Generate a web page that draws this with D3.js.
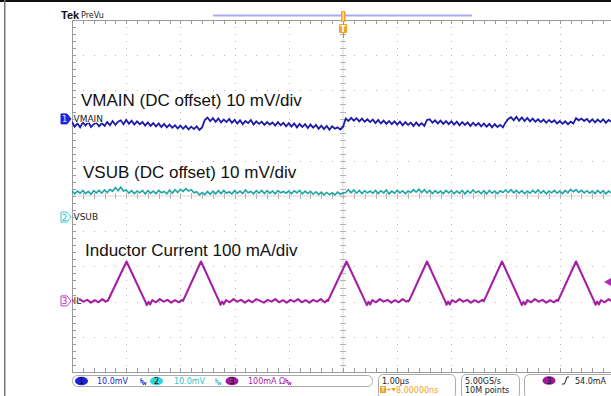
<!DOCTYPE html>
<html><head><meta charset="utf-8">
<script src="https://cdn.jsdelivr.net/npm/d3@7"></script>
<style>
html,body{margin:0;padding:0;background:#fff;}
svg{display:block;}
text{font-family:"DejaVu Sans",sans-serif;}
</style></head>
<body>
<svg id="c" width="611" height="396"></svg>
<script>
// ---------------- DATA ----------------
const timeStartUs = -5.0, timeStepUs = 0.05;           // sample grid of VMAIN / VSUB
// VMAIN (mV, relative to its marker), 10 mV/div
const vmainMv = [
-0.9,-2.2,-1.3,-2.4,-1.0,-1.9,-0.8,-2.3,-1.5,-1.1,
-2.1,-1.2,-2.0,-0.9,-1.8,-0.6,-1.7,-0.8,-0.4,-1.5,
-0.3,-1.4,-0.5,-1.6,-0.7,-1.5,-0.9,-1.9,-1.0,-2.0,
-1.2,-2.1,-1.3,-2.3,-1.4,-2.4,-1.6,-2.5,-1.8,-2.7,
-1.9,-2.8,-2.0,-3.0,-2.2,-2.9,-2.1,-3.1,-2.4,-0.3,
 0.4,-0.6, 0.2,-0.8, 0.1,-1.0,-0.2,-0.9, 0.0,-1.1,
-0.3,-1.3,-0.4,-1.5,-0.6,-1.2,-0.3,-1.6,-0.7,-1.4,
-0.8,-1.7,-0.9,-1.6,-1.0,-1.9,-0.9,-1.8,-1.1,-2.1,
-1.2,-2.2,-1.3,-2.4,-1.4,-2.3,-1.5,-2.6,-1.6,-2.5,
-1.7,-2.8,-1.9,-2.9,-2.0,-3.1,-2.1,-2.8,-2.4,-3.0,
-2.3, 0.1,-0.6, 0.3,-0.5, 0.2,-0.7, 0.1,-0.8,-0.1,
-0.9,-0.2,-1.2,-0.3,-1.3,-0.5,-1.4,-0.6,-1.5,-0.7,
-1.6,-0.8,-1.8,-0.9,-1.7,-1.1,-2.0,-1.0,-1.9,-1.2,
-2.0,-0.3,-0.1,-1.1,-0.4,-1.3,-0.5,-1.4,-0.6,-1.5,
-0.7,-1.6,-0.8,-1.8,-0.9,-1.7,-1.0,-2.0,-1.1,-1.9,
-1.2,-2.1,-1.3,-2.2,-1.4,-2.4,-1.5,-2.3,-1.7,-2.4,
-1.0, 0.0, 0.5,-0.4, 0.6,-0.5, 0.4,-0.6, 0.3,-0.7,
 0.1,-0.8,-0.1,-0.9,-0.2,-1.1,-0.3,-1.0,-0.4,-1.3,
-0.6,-1.4,-0.7,-1.5,-0.8,-1.3, 0.2,-0.4, 0.1,-0.6,
 0.0,-0.9,-0.1,-1.0,-0.2,-0.9,-0.1,-1.1,-0.3,-0.8];
// VSUB (mV, relative to its marker), 10 mV/div
const vsubMv = [
7.5,6.6,7.4,6.8,7.6,6.7,7.3,6.5,7.5,6.9,
7.6,6.8,7.7,7.0,7.9,7.3,8.4,7.5,8.5,7.4,
7.7,6.8,7.5,6.7,7.4,6.9,7.6,6.6,7.5,6.8,
7.4,6.7,7.6,6.9,7.3,6.6,7.7,6.8,7.8,7.0,
7.9,7.3,8.1,7.4,7.8,6.9,7.2,6.3,7.0,6.4,
7.3,6.5,7.4,6.6,7.5,6.7,7.6,6.8,7.2,6.6,
7.5,6.8,7.4,6.7,7.7,6.9,7.3,6.6,7.5,6.8,
7.6,6.7,7.5,6.8,7.4,6.6,7.5,6.9,7.3,6.8,
7.4,6.7,7.5,6.9,7.6,6.6,7.4,6.7,7.3,6.5,
7.2,6.4,7.1,6.3,7.0,6.4,6.9,6.3,7.1,6.5,
6.9,7.0,7.8,6.9,7.7,6.8,7.6,6.7,7.5,6.9,
7.4,6.8,7.6,6.7,7.5,6.9,7.7,6.6,7.4,6.8,
7.6,6.9,7.5,6.7,7.4,7.0,7.8,7.1,7.9,7.0,
7.8,6.9,7.6,6.7,7.5,6.8,7.4,6.7,7.6,6.9,
7.5,6.7,7.4,6.8,7.6,6.6,7.5,6.8,7.7,6.9,
7.4,6.7,7.5,6.6,7.6,6.8,7.4,6.7,7.5,7.0,
7.7,7.0,7.8,6.9,7.6,6.8,7.5,6.7,7.4,6.8,
7.6,6.9,7.7,6.8,7.5,6.6,7.4,6.9,7.6,6.8,
7.4,6.7,7.6,6.9,7.9,7.2,7.8,7.0,7.6,6.9,
7.5,6.8,7.4,6.7,7.6,6.8,7.5,6.6,7.4,6.9];
// Inductor current (mA, relative to its marker), 100 mA/div
const ilTimesUs = [
-5.00,-4.93,-4.86,-4.79,-4.72,-4.65,-4.58,-4.51,-4.44,-4.38,
-4.336,-3.994,-3.653,-3.62,-3.59,-3.56,-3.52,
-3.45,-3.38,-3.31,-3.24,-3.17,-3.10,-3.03,-2.97,
-2.952,-2.620,-2.288,-2.26,-2.23,-2.20,-2.16,
-2.09,-2.02,-1.95,-1.88,-1.81,-1.74,-1.67,-1.60,-1.53,-1.46,-1.39,-1.32,-1.25,-1.18,-1.11,-1.04,-0.97,-0.90,-0.83,-0.76,-0.69,-0.62,-0.55,-0.48,-0.41,-0.34,-0.29,
-0.277,0.065,0.406,0.44,0.47,0.50,0.54,
0.61,0.68,0.75,0.82,0.89,0.96,1.03,1.10,1.17,1.21,
1.218,1.550,1.882,1.91,1.94,1.97,2.01,
2.08,2.15,2.22,2.29,2.36,2.43,2.50,2.57,2.59,
2.601,2.934,3.266,3.30,3.33,3.36,3.40,
3.47,3.54,3.61,3.68,3.75,3.82,3.89,3.95,
3.967,4.299,4.631,4.66,4.69,4.72,4.76,
4.83,4.90,4.97];
const ilMa = [
3,-4,5,-2,3,-5,2,-4,5,-2,
1,112,0,-12,-3,-10,2,
-4,5,-2,3,-5,2,-4,3,
0,112,0,-11,-2,-9,2,
-4,5,-2,3,-5,2,-4,5,0,-5,3,-2,5,-4,2,-5,3,-2,5,-4,2,-5,3,-2,5,-4,2,
0,112,0,-12,-3,-10,2,
-4,5,-2,3,-5,2,-4,5,-2,1,
0,112,0,-11,-2,-10,2,
-4,5,-2,3,-5,2,-4,3,0,
0,112,0,-12,-3,-10,2,
-4,5,-2,3,-5,2,-4,3,
0,112,0,-11,-2,-10,2,
-4,5,-2];
// channel settings
const channels = ["VMAIN","VSUB","IL"];
const channelOffsetsDiv = [2.19, -0.60, -2.98];
const channelPerDiv = [10, 10, 100];
const channelColors = ["#1b1ba6","#1fa3a3","#a51fa5"];
const annotations = ["VMAIN (DC offset) 10 mV/div","VSUB (DC offset) 10 mV/div","Inductor Current 100 mA/div"];
const statusScales = ["10.0mV","10.0mV","100mA"];
const timePerDiv = "1.00µs", triggerDelay = "8.00000ns", sampleRate = "5.00GS/s", recordLen = "10M points", triggerLevel = "54.0mA";
const trigLevelMa = 54;

// ---------------- DRAW ----------------
const svg = d3.select("#c");
const x = d3.scaleLinear().domain([-5,5]).range([72,614]);
const y = d3.scaleLinear().domain([-5,5]).range([372,20]);
const gridCol = "#b4b4b4";

// frame
svg.append("rect").attr("x",0).attr("y",0).attr("width",611).attr("height",2).attr("fill","#111");
svg.append("rect").attr("x",4).attr("y",0).attr("width",1.5).attr("height",396).attr("fill","#777");

// graticule dots
const g = svg.append("g");
const minorX = d3.range(0,50.01,1).map(i=>-5+i*0.2);
const minorY = d3.range(0,50.01,1).map(i=>-5+i*0.2);
const majors = d3.range(-4,5,1);
majors.forEach(mx=>{ if(mx===0) return;
  minorY.forEach(my=> g.append("rect").attr("x",Math.round(x(mx))).attr("y",Math.round(y(my))).attr("width",1).attr("height",1).attr("fill",gridCol));
});
majors.forEach(my=>{ if(my===0) return;
  minorX.forEach(mx=>{ if(x(mx)<611) g.append("rect").attr("x",Math.round(x(mx))).attr("y",Math.round(y(my))).attr("width",1).attr("height",1).attr("fill",gridCol);});
});
// center axes
g.append("line").attr("x1",x(0)).attr("x2",x(0)).attr("y1",y(5)).attr("y2",y(-5)).attr("stroke","#d8d8d8").attr("stroke-width",1);
g.append("line").attr("x1",x(-5)).attr("x2",611).attr("y1",y(0)).attr("y2",y(0)).attr("stroke","#d8d8d8").attr("stroke-width",1);
minorY.forEach(my=> g.append("line").attr("x1",x(0)-3).attr("x2",x(0)+3).attr("y1",Math.round(y(my))+0.5).attr("y2",Math.round(y(my))+0.5).attr("stroke",gridCol));
minorX.forEach(mx=> { if(x(mx)<611) g.append("line").attr("y1",y(0)-3).attr("y2",y(0)+3).attr("x1",Math.round(x(mx))+0.5).attr("x2",Math.round(x(mx))+0.5).attr("stroke",gridCol);});
// edges
g.append("line").attr("x1",x(-5)+0.5).attr("x2",x(-5)+0.5).attr("y1",y(5)).attr("y2",y(-5)).attr("stroke","#999");
g.append("line").attr("x1",x(-5)).attr("x2",611).attr("y1",y(5)+0.5).attr("y2",y(5)+0.5).attr("stroke","#999");
g.append("line").attr("x1",x(-5)).attr("x2",611).attr("y1",y(-5)+0.5).attr("y2",y(-5)+0.5).attr("stroke","#999");
minorY.forEach(my=> g.append("line").attr("x1",x(-5)).attr("x2",x(-5)+4).attr("y1",Math.round(y(my))+0.5).attr("y2",Math.round(y(my))+0.5).attr("stroke","#999"));
minorX.forEach(mx=> { if(x(mx)<611){
  g.append("line").attr("y1",y(5)).attr("y2",y(5)+4).attr("x1",Math.round(x(mx))+0.5).attr("x2",Math.round(x(mx))+0.5).attr("stroke","#999");
  g.append("line").attr("y1",y(-5)-4).attr("y2",y(-5)).attr("x1",Math.round(x(mx))+0.5).attr("x2",Math.round(x(mx))+0.5).attr("stroke","#999");}});

// traces
svg.append("clipPath").attr("id","clip").append("rect").attr("x",72).attr("y",20).attr("width",540).attr("height",352);
const traces = svg.append("g").attr("clip-path","url(#clip)");
function chanLine(ci){ return d3.line().x(d=>x(d[0])).y(d=>y(channelOffsetsDiv[ci]+d[1]/channelPerDiv[ci])); }
const vmainPts = vmainMv.map((v,i)=>[timeStartUs+i*timeStepUs, v]);
const vsubPts = vsubMv.map((v,i)=>[timeStartUs+i*timeStepUs, v]);
const ilPts = ilMa.map((v,i)=>[ilTimesUs[i], v]);
traces.append("path").attr("d",chanLine(0)(vmainPts)).attr("fill","none").attr("stroke",channelColors[0]).attr("stroke-width",1.8);
traces.append("path").attr("d",chanLine(1)(vsubPts)).attr("fill","none").attr("stroke",channelColors[1]).attr("stroke-width",1.6);
traces.append("path").attr("d",chanLine(2)(ilPts)).attr("fill","none").attr("stroke",channelColors[2]).attr("stroke-width",2.1).attr("stroke-linejoin","round");

// annotations
const annX = [81, 83, 85], annY = [106, 178, 256];
annotations.forEach((t,i)=> svg.append("text").attr("x",annX[i]).attr("y",annY[i]).text(t)
  .style("font-family","'Liberation Sans',Arial,sans-serif").style("font-size","17px").attr("fill","#111"));

// channel markers
channels.forEach((name,i)=>{
  const cy = y(channelOffsetsDiv[i]);
  const filled = i===0;
  svg.append("path").attr("d",`M61,${cy-5}H67L71,${cy}L67,${cy+5}H61Z`)
    .attr("fill", filled? "#2222d8" : "#fff").attr("stroke", filled? "#2222d8" : (i===1?"#36cccc":"#c040c0")).attr("stroke-width",1);
  svg.append("text").attr("x",64.5).attr("y",cy+3.5).attr("text-anchor","middle").style("font-size","9px")
    .attr("fill", filled? "#dcdcff" : (i===1?"#30c0c0":"#b030b0")).text(String(i+1));
  svg.append("text").attr("x",73.5).attr("y",cy+3).style("font-size","9px").attr("fill","#222")
    .attr("stroke","#fff").attr("stroke-width",1.5).style("paint-order","stroke").text(name);
});

// top: Tek PreVu, record bar, trigger markers
svg.append("text").attr("x",61).attr("y",19).style("font-family","'Liberation Sans',Arial,sans-serif").style("font-size","11px").style("font-weight","bold").attr("fill","#111").text("Tek");
svg.append("text").attr("x",81).attr("y",18).style("font-size","8px").attr("fill","#222").text("PreVu");
svg.append("line").attr("x1",213).attr("x2",472).attr("y1",15.5).attr("y2",15.5).attr("stroke","#a9a9f2").attr("stroke-width",2);
svg.append("rect").attr("x",x(0)-2).attr("y",11).attr("width",4.5).attr("height",11).attr("fill","#f2a31c").attr("rx",1);
svg.append("rect").attr("x",x(0)-0.5).attr("y",12).attr("width",1.5).attr("height",9).attr("fill","#fbe3b0");
svg.append("rect").attr("x",x(0)-4).attr("y",24).attr("width",8).attr("height",9).attr("fill","#f2a31c").attr("rx",1);
svg.append("text").attr("x",x(0)).attr("y",31.5).attr("text-anchor","middle").style("font-size","8px").style("font-weight","bold").attr("fill","#fff").text("T");
svg.append("line").attr("x1",x(0)+0.5).attr("x2",x(0)+0.5).attr("y1",33).attr("y2",38).attr("stroke","#999");

// trigger level arrow (right)
const tly = y(channelOffsetsDiv[2]+trigLevelMa/channelPerDiv[2]);
svg.append("path").attr("d",`M604,${tly}L611,${tly-4}V${tly+4}Z`).attr("fill","#b02cb0");

// status bar
const sb = svg.append("g");
sb.append("rect").attr("x",72.5).attr("y",375.5).attr("width",300).attr("height",11).attr("rx",5).attr("fill","#fff").attr("stroke","#aaa");
const ellCols = ["#2121d9","#30d6d6","#9c1a9c"];
const ellX = [81.5,156.5,232];
const txtX = [97,174,248];
const txtCols = ["#2424c8","#2fc4c4","#a622a6"];
[0,1,2].forEach(i=>{
  sb.append("ellipse").attr("cx",ellX[i]).attr("cy",381).attr("rx",6.5).attr("ry",4.3).attr("fill",ellCols[i]);
  sb.append("text").attr("x",ellX[i]).attr("y",384).attr("text-anchor","middle").style("font-size","8px").attr("fill","#111").text(String(i+1));
  sb.append("text").attr("x",txtX[i]).attr("y",384).style("font-size","8px").attr("fill",txtCols[i]).text(statusScales[i]+(i===2?" Ω":""));
});
// bandwidth-limit icons (drawn as paths)
[141,216,286].forEach((bx,i)=>{
  sb.append("path").attr("d",`M${bx},378V383M${bx},380.5H${bx+2}V383M${bx+1.5},382L${bx+2.5},385L${bx+3.5},382.5L${bx+4.5},385L${bx+5},382`)
    .attr("fill","none").attr("stroke",txtCols[i]).attr("stroke-width",0.9);
});
// horizontal box
sb.append("rect").attr("x",378.5).attr("y",374.5).attr("width",77).attr("height",24).attr("rx",5).attr("fill","#fff").attr("stroke","#aaa");
sb.append("text").attr("x",382).attr("y",383.5).style("font-size","8px").attr("fill","#222").text(timePerDiv);
sb.append("rect").attr("x",380).attr("y",386).attr("width",6).attr("height",7).attr("fill","#f2a31c");
sb.append("path").attr("d","M381.5,387.5H384.5M383,387.5V391.5").attr("stroke","#fff").attr("stroke-width",1);
sb.append("path").attr("d","M386.5,389.5H390M388.5,388L390,389.5L388.5,391").attr("fill","none").attr("stroke","#f2a31c").attr("stroke-width",0.9);
sb.append("path").attr("d","M391,388H396L393.5,391.5Z").attr("fill","#f2a31c");
sb.append("text").attr("x",396).attr("y",392.5).style("font-size","8px").attr("fill","#f2a31c").text(triggerDelay);
// acquisition box
sb.append("rect").attr("x",461.5).attr("y",374.5).attr("width",58).attr("height",24).attr("rx",5).attr("fill","#fff").attr("stroke","#aaa");
sb.append("text").attr("x",465).attr("y",383.5).style("font-size","8px").attr("fill","#222").text(sampleRate);
sb.append("text").attr("x",465).attr("y",392.5).style("font-size","8px").attr("fill","#222").text(recordLen);
// trigger box
sb.append("rect").attr("x",524.5).attr("y",374.5).attr("width",95).attr("height",24).attr("rx",5).attr("fill","#fff").attr("stroke","#aaa");
sb.append("ellipse").attr("cx",549).attr("cy",380.5).attr("rx",6.5).attr("ry",4.3).attr("fill","#9c1a9c");
sb.append("text").attr("x",549).attr("y",383.5).attr("text-anchor","middle").style("font-size","8px").attr("fill","#111").text("3");
sb.append("path").attr("d","M562,384H564.5L567,377H569").attr("fill","none").attr("stroke","#222").attr("stroke-width",1);
sb.append("text").attr("x",575).attr("y",383.5).style("font-size","8px").attr("fill","#222").text(triggerLevel);
</script>
</body></html>
